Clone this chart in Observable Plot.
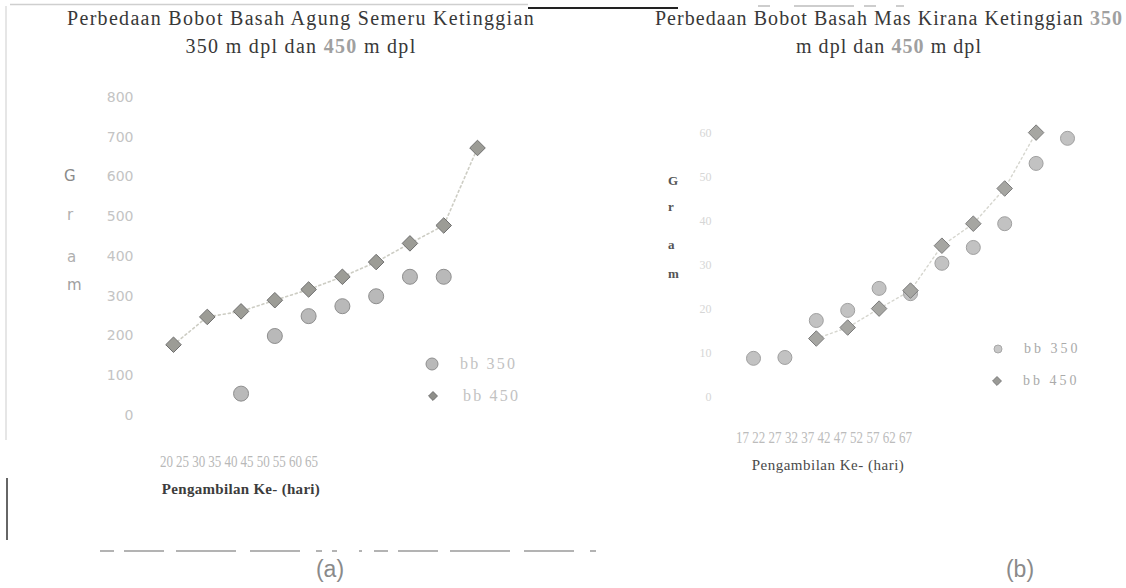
<!DOCTYPE html>
<html>
<head>
<meta charset="utf-8">
<script src="https://cdn.jsdelivr.net/npm/d3@7"></script>
<script src="https://cdn.jsdelivr.net/npm/@observablehq/plot@0.6"></script>
<style>
  html, body { margin: 0; padding: 0; background: #fff; }
  body { width: 1126px; height: 588px; position: relative; overflow: hidden; font-family: "Liberation Serif", serif; }
  .abs { position: absolute; }
  .title { font-family: "Liberation Serif", serif; color: #383838; font-size: 20px; line-height: 26px; text-align: center; white-space: nowrap; transform: translateX(-50%) scaleY(1.08); transform-origin: 50% 0; }
  .title .lite { color: #a0a0a0; font-weight: bold; }
  .xlab { white-space: nowrap; transform: translateX(-50%); }
  .leg { white-space: nowrap; display: flex; align-items: center; font-family: "Liberation Serif", serif; }
  .gram { font-family: "DejaVu Sans", sans-serif; }
  .cap { font-family: "Liberation Sans", sans-serif; font-size: 23px; color: #8a8a8a; transform: translateX(-50%); }
  .tall { transform: scaleY(1.35); transform-origin: 0 0; }
</style>
</head>
<body>
<script>
// ---------- data: chart (a) Agung Semeru ----------
const dayA = [20, 25, 30, 35, 40, 45, 50, 55, 60, 65];
const bb450A = [178, 248, 262, 290, 317, 349, 386, 433, 478, 673];
const day350A = [30, 35, 40, 45, 50, 55, 60];
const bb350A = [55, 200, 250, 275, 300, 349, 349];
const yTicksA = [0, 100, 200, 300, 400, 500, 600, 700, 800];
const xTicksA = [20, 25, 30, 35, 40, 45, 50, 55, 60, 65];

// ---------- data: chart (b) Mas Kirana ----------
const dayB = [17, 22, 27, 32, 37, 42, 47, 52, 57, 62, 67];
const bb350B = [8.9, 9.1, 17.5, 19.8, 24.8, 23.6, 30.5, 34.1, 39.5, 53.2, 58.9];
const day450B = [27, 32, 37, 42, 47, 52, 57, 62];
const bb450B = [13.4, 15.9, 20.2, 24.3, 34.5, 39.5, 47.5, 60.2];
const yTicksB = [0, 10, 20, 30, 40, 50, 60];
const xTicksB = [17, 22, 27, 32, 37, 42, 47, 52, 57, 62, 67];

const seriesNames = ["bb 350", "bb 450"];
const titleA = ["Perbedaan Bobot Basah Agung Semeru Ketinggian", "350 m dpl dan ", "450", " m dpl"];
const titleB = ["Perbedaan Bobot Basah Mas Kirana Ketinggian ", "350", "m dpl dan ", "450", " m dpl"];
const xTitle = "Pengambilan Ke- (hari)";

const rows = (xs, ys) => xs.map((d, i) => ({day: d, w: ys[i]}));
const A350 = rows(day350A, bb350A), A450 = rows(dayA, bb450A);
const B350 = rows(dayB, bb350B), B450 = rows(day450B, bb450B);

function place(node, left, top) {
  node.style.position = "absolute";
  node.style.left = left + "px";
  node.style.top = top + "px";
  document.body.appendChild(node);
  return node;
}
function div(cls, html, left, top, extra) {
  const d = document.createElement("div");
  d.className = "abs " + cls;
  d.innerHTML = html;
  if (extra) Object.assign(d.style, extra);
  return place(d, left, top);
}

// ---------- scan frame artifacts ----------
const frame = d3.create("svg").attr("width", 1126).attr("height", 588);
frame.append("line").attr("x1", 10).attr("x2", 528).attr("y1", 4.5).attr("y2", 4.5).attr("stroke", "#cfcfcf").attr("stroke-width", 1.5);
frame.append("line").attr("x1", 528).attr("x2", 678).attr("y1", 8).attr("y2", 8).attr("stroke", "#222").attr("stroke-width", 2);
frame.append("line").attr("x1", 6).attr("x2", 6).attr("y1", 6).attr("y2", 440).attr("stroke", "#d6d6d6").attr("stroke-width", 1.2);
frame.append("line").attr("x1", 7).attr("x2", 7).attr("y1", 478).attr("y2", 540).attr("stroke", "#333").attr("stroke-width", 1.5);
frame.append("line").attr("x1", 100).attr("x2", 600).attr("y1", 551).attr("y2", 551).attr("stroke", "#9a9a9a").attr("stroke-width", 1.5).attr("stroke-dasharray", "14,10,40,12,60,14,50,16,6,10,5,22,3,12");
frame.append("line").attr("x1", 758).attr("x2", 905).attr("y1", 6).attr("y2", 6).attr("stroke", "#bdbdbd").attr("stroke-width", 1.5).attr("stroke-dasharray", "12,24,60,10,12,20,8");
place(frame.node(), 0, 0);

// ---------- chart (a) ----------
const plotA = Plot.plot({
  width: 560, height: 440,
  marginLeft: 173, marginRight: 83, marginTop: 97, marginBottom: 25,
  x: {domain: [20, 65], axis: null},
  y: {domain: [0, 800]},
  style: {fontFamily: "DejaVu Sans, sans-serif", fontSize: "14px", color: "#c4c4c4", background: "transparent"},
  marks: [
    Plot.axisY({ticks: yTicksA, tickSize: 0, tickPadding: 40, label: null, tickFormat: d => String(d)}),
    Plot.line(A450, {x: "day", y: "w", stroke: "#cdcdc4", strokeWidth: 1.6, strokeDasharray: "2,3"}),
    Plot.dot(A350, {x: "day", y: "w", symbol: "circle", r: 7.5, fill: "#b9b9b9", stroke: "#8e8e8e", strokeWidth: 1}),
    Plot.dot(A450, {x: "day", y: "w", symbol: "diamond2", r: 7, fill: "#9c9c96", stroke: "#6f6f6f", strokeWidth: 1})
  ]
});
place(plotA, 0, 0);

const xAxisA = Plot.plot({
  width: 560, height: 24, marginLeft: 166, marginRight: 249, marginTop: 4, marginBottom: 20,
  x: {domain: [20, 65]},
  style: {fontFamily: "Liberation Serif, serif", fontSize: "13px", color: "#b8b8b8", background: "transparent"},
  marks: [Plot.axisX({ticks: xTicksA, tickSize: 0, tickPadding: 0, label: null, tickFormat: d => String(d)})]
});
xAxisA.classList.add("tall");
place(xAxisA, 0, 448);

div("title", titleA[0] + "<br>" + titleA[1] + '<span class="lite">' + titleA[2] + "</span>" + titleA[3], 301, 3, {letterSpacing: "1.3px"});
div("xlab", "<b>" + xTitle + "</b>", 241, 481, {fontSize: "15px", color: "#3c3c3c", letterSpacing: "0.3px"});

const yA = plotA.scale("y");
const gramA = [["G", 600, "#8a8a8a", 0], ["r", 500, "#b0b0b0", 0], ["a", 400, "#b0b0b0", 2], ["m", 300, "#a0a0a0", -10]];
gramA.forEach(([ch, v, c, dy]) => div("gram", ch, ch === "G" ? 64 : 67, yA.apply(v) - 10 + dy, {fontSize: "15px", color: c}));

function legendRow(sym, r, fill, stroke, label, left, top, size, color, gap, spacing) {
  const s = d3.create("svg").attr("width", 2 * r + 4).attr("height", 2 * r + 4);
  s.append("path").attr("transform", `translate(${r + 2},${r + 2})`)
    .attr("d", d3.symbol(sym, Math.PI * r * r)()).attr("fill", fill).attr("stroke", stroke);
  const d = document.createElement("div");
  d.className = "abs leg";
  d.style.fontSize = size + "px";
  d.style.color = color;
  d.style.letterSpacing = spacing + "px";
  d.appendChild(s.node());
  const t = document.createElement("span");
  t.textContent = label;
  t.style.marginLeft = gap + "px";
  d.appendChild(t);
  place(d, left, top);
}
legendRow(d3.symbolCircle, 6, "#b9b9b9", "#8e8e8e", seriesNames[0], 424, 355, 16, "#c2c2c2", 20, 2.2);
legendRow(d3.symbolDiamond2, 4, "#8f8f8a", "#6f6f6f", seriesNames[1], 427, 387, 16, "#c2c2c2", 24, 2.2);

// ---------- chart (b) ----------
const plotB = Plot.plot({
  width: 486, height: 420,
  marginLeft: 113, marginRight: 59, marginTop: 133, marginBottom: 23,
  x: {domain: [17, 67], axis: null},
  y: {domain: [0, 60]},
  style: {fontFamily: "Liberation Serif, serif", fontSize: "12px", color: "#d6d6d6", background: "transparent"},
  marks: [
    Plot.axisY({ticks: yTicksB, tickSize: 0, tickPadding: 42, label: null, tickFormat: d => String(d)}),
    Plot.line(B450, {x: "day", y: "w", stroke: "#d6d6cf", strokeWidth: 1.4, strokeDasharray: "2,3"}),
    Plot.dot(B350, {x: "day", y: "w", symbol: "circle", r: 7, fill: "#c2c2c2", stroke: "#a0a0a0", strokeWidth: 1}),
    Plot.dot(B450, {x: "day", y: "w", symbol: "diamond2", r: 7, fill: "#a6a6a2", stroke: "#7c7c7c", strokeWidth: 1})
  ]
});
place(plotB, 640, 0);

const xAxisB = Plot.plot({
  width: 486, height: 24, marginLeft: 102, marginRight: 221, marginTop: 4, marginBottom: 20,
  x: {domain: [17, 67]},
  style: {fontFamily: "Liberation Serif, serif", fontSize: "13px", color: "#bcbcbc", background: "transparent"},
  marks: [Plot.axisX({ticks: xTicksB, tickSize: 0, tickPadding: 0, label: null, tickFormat: d => String(d)})]
});
xAxisB.classList.add("tall");
place(xAxisB, 640, 424);

div("title", titleB[0] + '<span class="lite">' + titleB[1] + "</span><br>" + titleB[2] + '<span class="lite">' + titleB[3] + "</span>" + titleB[4], 889, 3, {letterSpacing: "1.05px"});
div("xlab", xTitle, 828, 457, {fontSize: "15px", color: "#4a4a4a", letterSpacing: "0.5px"});

const gramB = [["G", 182], ["r", 208], ["a", 246], ["m", 275]];
gramB.forEach(([ch, y]) => div("", ch, 668, y - 9, {fontSize: "13px", color: "#555", fontWeight: "bold"}));

legendRow(d3.symbolCircle, 4, "#c8c8c8", "#a8a8a8", seriesNames[0], 992, 341, 14, "#aaaaaa", 20, 3);
legendRow(d3.symbolDiamond2, 4, "#9a9a96", "#7c7c7c", seriesNames[1], 991, 373, 14, "#aaaaaa", 20, 3);

// ---------- captions ----------
div("cap", "(a)", 330, 556);
div("cap", "(b)", 1020, 556);
</script>
</body>
</html>
